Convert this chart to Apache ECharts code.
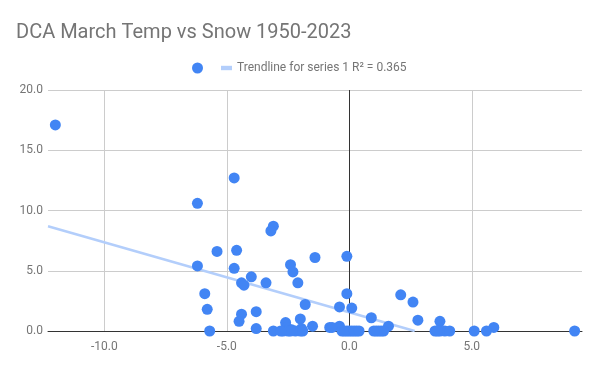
<!DOCTYPE html>
<html>
<head>
<meta charset="utf-8">
<script src="https://cdn.jsdelivr.net/npm/echarts@6/dist/echarts.min.js"></script>
<style>html,body{margin:0;padding:0;background:#fff}#chart{width:600px;height:371px}</style>
</head>
<body>
<div id="chart"></div>
<script>
var titleText = 'DCA March Temp vs Snow 1950-2023';
var trendName = 'Trendline for series 1 R² = 0.365';
// March temperature departure (x) and snowfall (y)
var temps = [-12.0, -6.2, -4.7, -3.1, -3.2, -5.4, -4.6, -6.2, -4.7, -2.4,
             -2.3, -1.4, -0.1, -4.0, -4.4, -4.3, -3.4, -2.1, -5.9, -5.8,
             -4.4, -4.5, -3.8, -1.8, -0.1, -0.4, 0.1, 0.9, 2.1, 2.6,
             2.8, 3.7, -2.6, -2.0, 1.6, 5.9, -1.5, -0.8, -0.4, -2.55,
             -0.7, -3.8, -1.95, -2.35, -5.7, -3.1, -2.7, -2.5, -2.2, -2.0,
             -0.3, -0.1, 0.1, 0.3, 1.1, 1.2, 1.4, 3.5, 3.7, 3.9,
             4.1, 5.1, 5.6, 9.2, 0.0, -0.2, 1.3, -1.9, -2.4, 0.2,
             3.6, 1.0, -2.8, 0.4];
var snow  = [17.1, 10.6, 12.7, 8.7, 8.3, 6.6, 6.7, 5.4, 5.2, 5.5,
             4.9, 6.1, 6.2, 4.5, 4.0, 3.8, 4.0, 4.0, 3.1, 1.8,
             1.4, 0.8, 1.6, 2.2, 3.1, 2.0, 1.9, 1.1, 3.0, 2.4,
             0.9, 0.8, 0.7, 1.0, 0.4, 0.3, 0.4, 0.3, 0.4, 0.3,
             0.3, 0.2, 0.2, 0.1, 0.0, 0.0, 0.0, 0.0, 0.0, 0.0,
             0.0, 0.0, 0.0, 0.0, 0.0, 0.0, 0.0, 0.0, 0.0, 0.0,
             0.0, 0.0, 0.0, 0.0, 0.0, 0.0, 0.0, 0.0, 0.0, 0.0,
             0.0, 0.0, 0.0, 0.0];
// Trendline end points as drawn
var trendX = [-12.3, 2.67];
var trendY = [8.69, 0.0];
var xTicks = [-10, -5, 0, 5];
var yTicks = [0, 5, 10, 15, 20];

var points = temps.map(function (t, i) { return [t, snow[i]]; });
var trendPts = trendX.map(function (t, i) { return [t, trendY[i]]; });

var chart = echarts.init(document.getElementById('chart'), null, {renderer: 'canvas'});
var gray = '#757575';
chart.setOption({
  animation: false,
  backgroundColor: '#fff',
  textStyle: {fontFamily: 'Roboto'},
  title: {
    text: titleText, left: 11, top: 18,
    textStyle: {fontFamily: 'Roboto', fontSize: 20, fontWeight: 'normal', color: gray}
  },
  legend: {
    left: 187, top: 57, itemWidth: 11, itemHeight: 11, itemGap: 10,
    symbolKeepAspect: true,
    textStyle: {fontFamily: 'Roboto', fontSize: 12, color: gray},
    data: [
      {name: ' ', icon: 'circle'},
      {name: trendName, icon: 'path://M0,0 L10,0 L10,4 L0,4 Z', itemStyle: {color: '#b3cefb'}}
    ]
  },
  grid: {left: 48, right: 18, top: 90, bottom: 40, containLabel: false},
  xAxis: {
    type: 'value', min: -12.3, max: 9.5,
    axisLine: {show: true, onZero: false, lineStyle: {color: '#333', width: 1}},
    axisTick: {show: false, customValues: xTicks},
    axisLabel: {customValues: xTicks, color: gray, fontSize: 12, margin: 10, fontFamily: 'Roboto',
      formatter: function (v) { return v.toFixed(1); }},
    splitLine: {show: true, lineStyle: {color: '#cccccc', width: 1}}
  },
  yAxis: {
    type: 'value', min: 0, max: 20, interval: 5,
    axisLine: {show: false},
    axisTick: {show: false},
    axisLabel: {color: gray, fontSize: 12, margin: 5, fontFamily: 'Roboto',
      formatter: function (v) { return v.toFixed(1); }},
    splitLine: {show: true, lineStyle: {color: '#cccccc', width: 1}}
  },
  series: [
    {
      name: ' ', type: 'scatter', data: points, z: 10,
      symbol: 'circle', symbolSize: 11,
      itemStyle: {color: '#4285f4', opacity: 1}
    },
    {
      name: trendName, type: 'line', data: trendPts, z: 3,
      symbol: 'none', showSymbol: false,
      lineStyle: {color: '#b3cefb', width: 2.5},
      itemStyle: {color: '#b3cefb'},
      markLine: {
        silent: true, symbol: 'none', label: {show: false},
        lineStyle: {color: '#333', width: 1, type: 'solid'},
        data: [{xAxis: 0}]
      }
    }
  ]
});
</script>
</body>
</html>
